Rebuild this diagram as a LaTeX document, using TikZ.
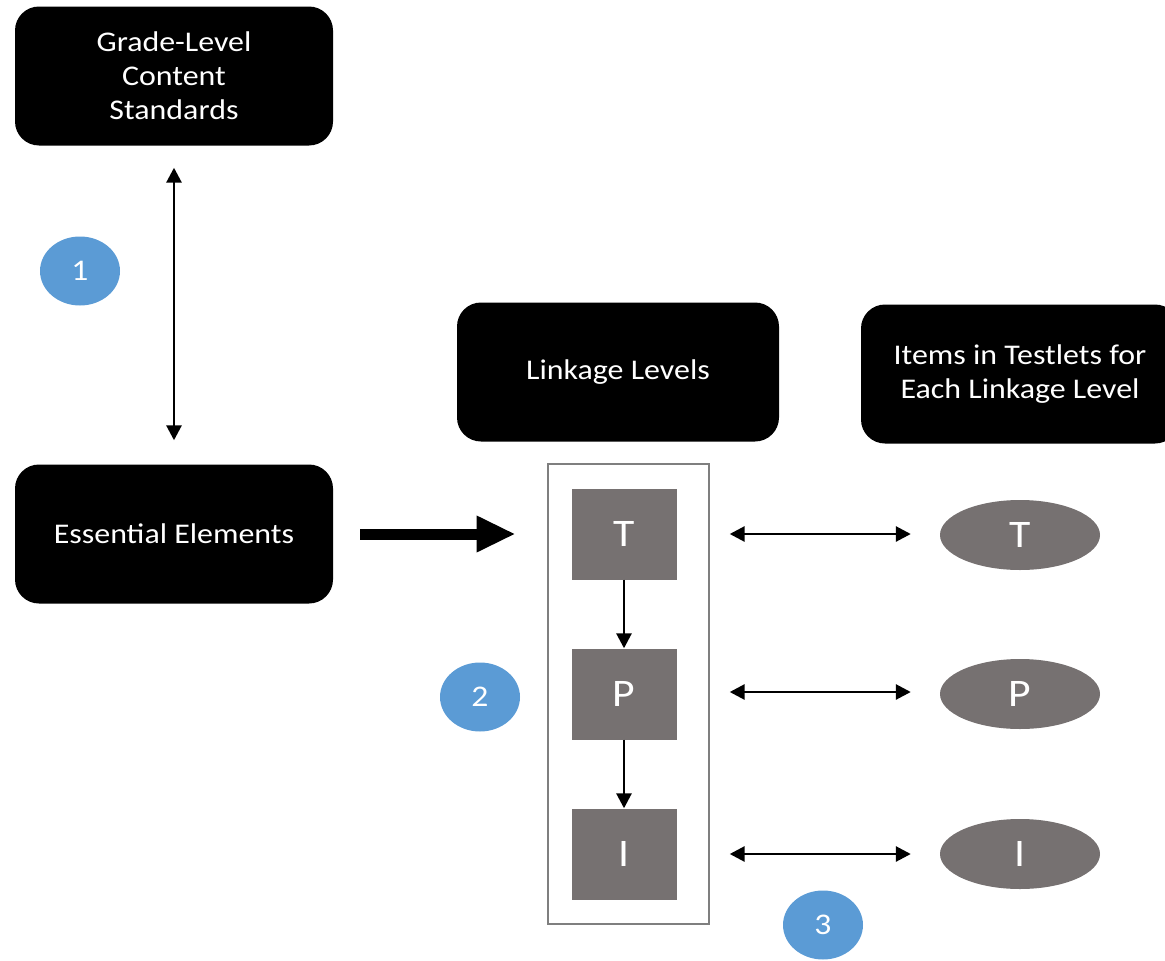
\documentclass[tikz,border=0pt]{standalone}
\usepackage{fontspec}
\setmainfont{Carlito}[FakeStretch=1.12]
\usepackage{xcolor}
\usepackage{tikz}
\usetikzlibrary{arrows.meta, shapes.geometric}
\definecolor{levelgrey}{HTML}{767171}
\definecolor{framegrey}{HTML}{7F7F7F}
\definecolor{badgeblue}{HTML}{5B9BD5}

\begin{document}
\begin{tikzpicture}[
            x=1pt, y=-1pt,
            blackbox/.style={fill=black, rounded corners=24pt, minimum width=318pt, minimum height=139pt, text=white, align=center, font=\fontsize{28.5}{34}\selectfont},
            levelbox/.style={fill=levelgrey, minimum width=105pt, minimum height=91pt, text=white, font=\fontsize{39}{44}\selectfont},
            itemoval/.style={ellipse, fill=levelgrey, minimum width=160pt, minimum height=70pt, text=white, font=\fontsize{39}{44}\selectfont},
            badge/.style={ellipse, fill=badgeblue, minimum width=80pt, minimum height=69pt, inner sep=0pt, text=white, font=\fontsize{30}{32}\selectfont},
            link/.style={line width=2.8pt, {Triangle[length=15pt,width=15pt]}-{Triangle[length=15pt,width=15pt]}},
            down/.style={line width=2.8pt, -{Triangle[length=15pt,width=15pt]}}
        ]
        \useasboundingbox (0,0) rectangle (1165,961);
        % Left column
        \node[blackbox] (grade) at (174,76) {Grade-Level\\Content\\Standards};
        \node[blackbox] (ee) at (174,534) {Essential Elements};
        \node[badge] (b1) at (80,271) {1};
        \draw[link] (grade) -- (ee) [shorten <=22pt, shorten >=24pt];
        % Headers
        \node[blackbox, minimum width=322pt] (levels) at (618,372) {Linkage Levels};
        \node[blackbox] (items) at (1020,374) {Items in Testlets for\\Each Linkage Level};
        % Linkage levels in a frame
        \node[draw=framegrey, line width=2pt, minimum width=161pt, minimum height=460pt] (frame) at (628,694) {};
        \node[levelbox] (lt) at (624,534) {T};
        \node[levelbox] (lp) at (624,694) {P};
        \node[levelbox] (li) at (624,854) {I};
        \draw[down] (lt) -- (lp);
        \draw[down] (lp) -- (li);
        \draw[line width=11pt, -{Triangle[length=39pt,width=34pt]}, shorten <=27pt, shorten >=31pt] (ee) -- (frame.west |- ee);
        \node[badge] (b2) at (480,697) {2};
        % Items for each level
        \node[itemoval] (it) at (1020,535) {T};
        \node[itemoval] (ip) at (1020,694) {P};
        \node[itemoval] (ii) at (1020,854) {I};
        \draw[link, shorten <=53pt, shorten >=29pt] (lt) -- (it.west |- lt);
        \draw[link, shorten <=53pt, shorten >=29pt] (lp.east) ++(0,-2) coordinate (pl) (pl) -- (ip.west |- pl);
        \draw[link, shorten <=53pt, shorten >=29pt] (li) -- (ii.west |- li);
        \node[badge] (b3) at (823,925) {3};
    \end{tikzpicture}
\end{document}
